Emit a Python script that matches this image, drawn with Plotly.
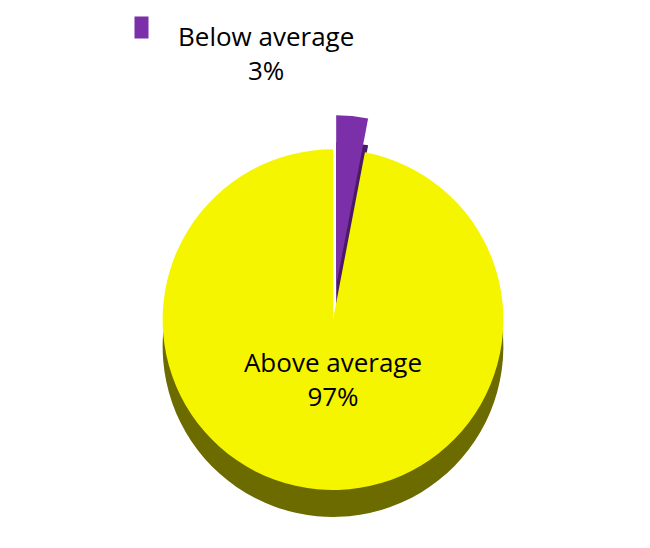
import plotly.graph_objects as go

labels = ["Below average", "Above average"]
values = [3, 97]
colors = ["#7B2FA8", "#F5F500"]

fig = go.Figure()
fig.add_trace(go.Pie(
    labels=labels, values=values, sort=False, direction="counterclockwise", rotation=0,
    pull=[0.2, 0], marker=dict(colors=["#4a1a66", "#6b6b00"]),
    textinfo="none", hoverinfo="skip", showlegend=False,
    domain=dict(x=[0.02, 0.98], y=[0.0, 0.76])
))
fig.add_trace(go.Pie(
    labels=labels, values=values, sort=False, direction="counterclockwise", rotation=0,
    pull=[0.2, 0], marker=dict(colors=colors),
    texttemplate=["", "%{label}<br>%{percent:.0%}"],
    textposition="inside", insidetextorientation="horizontal",
    textfont=dict(family="Open Sans", size=26, color="black"),
    showlegend=False,
    domain=dict(x=[0.02, 0.98], y=[0.05, 0.81])
))
total = sum(values)
fig.add_annotation(x=0.395, y=0.995, xref="paper", yref="paper", xanchor="center", yanchor="top",
                   showarrow=False, align="center",
                   text=f"{labels[0]}<br>{round(100*values[0]/total)}%",
                   font=dict(family="Open Sans", size=26, color="black"))
fig.add_annotation(x=0.2, y=0.995, xref="paper", yref="paper", xanchor="center", yanchor="top",
                   showarrow=False, text="&nbsp;&nbsp;&nbsp;", bgcolor=colors[0],
                   font=dict(size=14))
fig.update_layout(width=650, height=548, paper_bgcolor="white", plot_bgcolor="white",
                  margin=dict(l=5, r=5, t=5, b=5))
fig.write_html("out.html")
